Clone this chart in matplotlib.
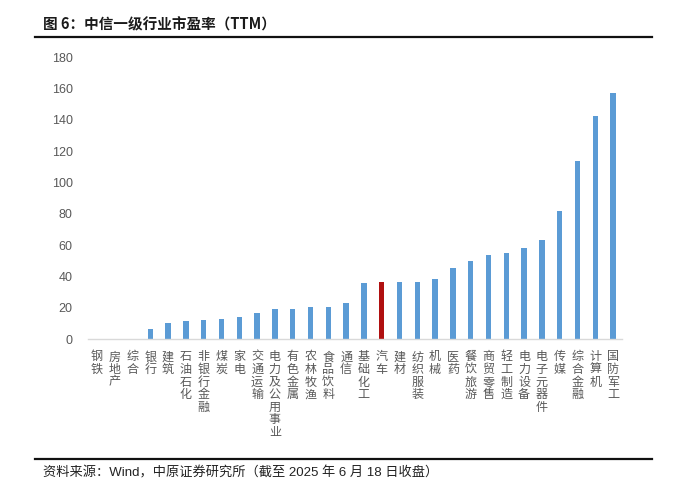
import matplotlib
matplotlib.use("Agg")
import matplotlib.pyplot as plt
from matplotlib.lines import Line2D

plt.rcParams['font.family'] = ['Liberation Sans', 'Noto Sans CJK SC', 'DejaVu Sans']

categories = ["钢铁", "房地产", "综合", "银行", "建筑", "石油石化", "非银行金融", "煤炭", "家电",
              "交通运输", "电力及公用事业", "有色金属", "农林牧渔", "食品饮料", "通信", "基础化工",
              "汽车", "建材", "纺织服装", "机械", "医药", "餐饮旅游", "商贸零售", "轻工制造",
              "电力设备", "电子元器件", "传媒", "综合金融", "计算机", "国防军工"]
values = [0, 0, 0, 6.6, 10.4, 11.7, 12.3, 12.8, 14.3, 17.0, 19.4, 19.4, 20.4, 20.9, 23.2, 35.7,
          36.4, 36.4, 36.8, 38.7, 45.3, 50.0, 53.6, 55.1, 57.9, 63.0, 81.5, 113.8, 142.1, 156.8]
highlight = "汽车"
yticks = [0, 20, 40, 60, 80, 100, 120, 140, 160, 180]

W, H = 700, 501
fig = plt.figure(figsize=(W / 100, H / 100), dpi=100)
ax = fig.add_axes([88 / W, (H - 339.3) / H, (622 - 88) / W, (339.3 - 57) / H])

colors = ["#b01010" if c == highlight else "#5b9bd5" for c in categories]
x = list(range(len(categories)))
ax.bar(x, values, width=0.31, color=colors, zorder=2)
ax.set_xlim(-0.5, len(categories) - 0.5)
ax.set_ylim(0, 180)
ax.set_yticks(yticks)
ax.set_yticklabels([str(v) for v in yticks], fontsize=9, color="#595959")
ax.set_xticks(x)
ax.set_xticklabels(["\n".join(c) for c in categories], fontsize=8.7, color="#595959",
                   family=['Noto Sans CJK SC'], va='top', linespacing=0.96)
ax.tick_params(axis='both', length=0)
ax.tick_params(axis='y', pad=11)
ax.tick_params(axis='x', pad=8)
for s in ["top", "right", "left"]:
    ax.spines[s].set_visible(False)
ax.spines["bottom"].set_color("#d9d9d9")
ax.spines["bottom"].set_linewidth(1.0)

fig.text(43 / W, 1 - 24 / H, "图 6：中信一级行业市盈率（TTM）", fontsize=10.5, fontweight='bold',
         family=['Noto Sans CJK SC'], va='center', ha='left', color="#1a1a1a")
fig.add_artist(Line2D([35 / W, 652 / W], [1 - 37 / H, 1 - 37 / H], color="#111111", lw=1.6,
                      transform=fig.transFigure))
fig.add_artist(Line2D([35 / W, 652 / W], [1 - 459 / H, 1 - 459 / H], color="#111111", lw=1.6,
                      transform=fig.transFigure))
fig.text(43 / W, 1 - 473 / H, "资料来源：Wind，中原证券研究所（截至 2025 年 6 月 18 日收盘）", fontsize=9.5,
         va='center', ha='left', color="#222222")

fig.savefig("out.png", dpi=100, facecolor="white")
